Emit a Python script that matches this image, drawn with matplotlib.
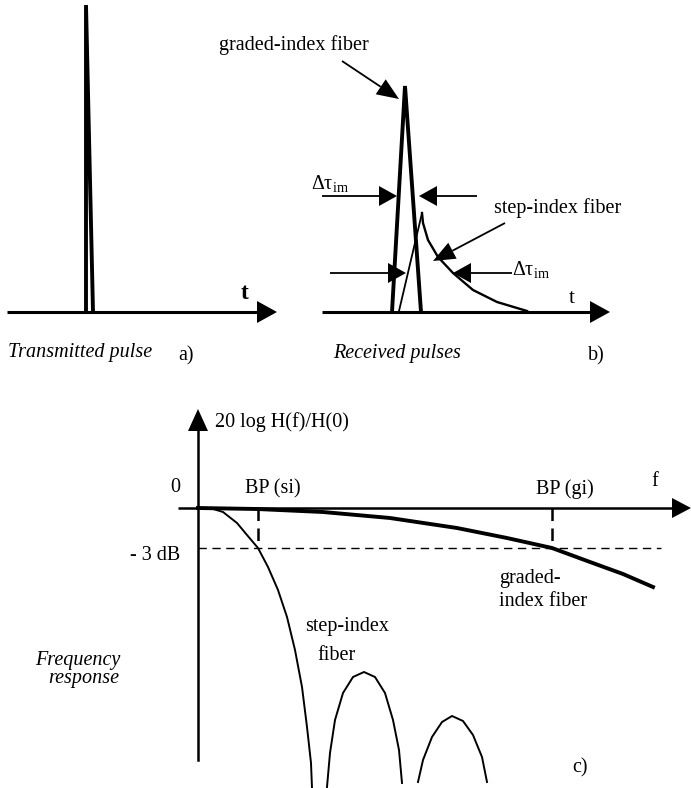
import numpy as np
import matplotlib
matplotlib.use('Agg')
import matplotlib.pyplot as plt
from matplotlib.patches import Polygon

plt.rcParams['font.family'] = ['Liberation Serif', 'DejaVu Serif']
plt.rcParams['mathtext.fontset'] = 'custom'
plt.rcParams['mathtext.rm'] = 'Liberation Serif'
plt.rcParams['mathtext.it'] = 'Liberation Serif:italic'
plt.rcParams['lines.solid_joinstyle'] = 'round'

# panel a) transmitted pulse (pixel coordinates of the sketch)
tx_pulse_x = [86, 86, 93]
tx_pulse_y = [312, 5, 312]

# panel b) received pulses
gi_pulse_x = [392, 405, 421]
gi_pulse_y = [312, 86, 312]
si_rise_x = [399, 422]
si_rise_y = [311, 213]
si_decay_x = [422, 423, 428, 438, 453, 473, 497, 527]
si_decay_y = [213, 223, 240, 257, 273, 290, 302, 311]

# panel c) frequency response
axis_y = 508
level_3db = 548
bp_si = 258
bp_gi = 552
gi_resp_x = [198, 257, 323, 390, 457, 507, 552, 590, 623, 653]
gi_resp_y = [508, 509, 512, 518, 528, 538, 548, 562, 574, 587]
si_resp_x = [198, 210, 223, 237, 247, 258, 268, 278, 287, 295, 302, 307, 311, 312]
si_resp_y = [508, 508, 512, 523, 535, 548, 567, 590, 617, 650, 687, 727, 763, 788]
lobe1_x = [327, 330, 335, 343, 353, 364, 375, 385, 393, 399, 402]
lobe1_y = [787, 753, 720, 693, 677, 672, 677, 693, 720, 750, 783]
lobe2_x = [418, 423, 432, 442, 452, 463, 473, 482, 487]
lobe2_y = [782, 760, 737, 722, 716, 721, 735, 757, 782]


def arrow(ax, tail, tip, lw=1.3, hl=20, hw=9):
    tail = np.array(tail, float)
    tip = np.array(tip, float)
    d = tip - tail
    d /= np.hypot(*d)
    n = np.array([-d[1], d[0]])
    base = tip - d * hl
    ax.plot([tail[0], base[0]], [tail[1], base[1]], color='k', lw=lw,
            solid_capstyle='butt')
    ax.add_patch(Polygon([tip, base + n * hw, base - n * hw],
                         closed=True, color='k', lw=0))


def main() -> None:
    fig = plt.figure(figsize=(6.91, 7.88), dpi=100)
    ax = fig.add_axes([0, 0, 1, 1])
    ax.set_xlim(0, 691)
    ax.set_ylim(788, 0)
    ax.axis('off')

    fs = 14.5

    # a)
    arrow(ax, (7, 312), (277, 312), lw=2.2, hl=20, hw=11)
    ax.plot(tx_pulse_x, tx_pulse_y, color='k', lw=2.8, solid_joinstyle='miter')
    ax.text(245, 293, 't', fontsize=17, fontweight='bold', ha='center', va='center')
    ax.text(8, 352, 'Transmitted pulse', fontsize=fs, style='italic', va='center')
    ax.text(178, 356, 'a)', fontsize=fs, va='center')

    # b)
    arrow(ax, (322, 312), (610, 312), lw=2.2, hl=20, hw=11)
    ax.plot(gi_pulse_x, gi_pulse_y, color='k', lw=2.8, solid_joinstyle='miter')
    ax.plot(si_rise_x, si_rise_y, color='k', lw=1.3)
    ax.plot(si_decay_x, si_decay_y, color='k', lw=1.7)
    ax.text(572, 298, 't', fontsize=15, ha='center', va='center')
    ax.text(294, 45, 'graded-index fiber', fontsize=fs, ha='center', va='center')
    arrow(ax, (342, 61), (399, 99), lw=1.3, hl=22, hw=9)
    ax.text(311, 183, 'Δτ$_{\\mathrm{im}}$', fontsize=fs, va='center')
    arrow(ax, (322, 196), (397, 196), lw=1.3, hl=18, hw=10)
    arrow(ax, (477, 196), (419, 196), lw=1.3, hl=18, hw=10)
    ax.text(494, 208, 'step-index fiber', fontsize=fs, va='center')
    arrow(ax, (505, 223), (433, 261), lw=1.3, hl=22, hw=9)
    arrow(ax, (330, 273), (406, 273), lw=1.3, hl=18, hw=10)
    arrow(ax, (512, 273), (453, 273), lw=1.3, hl=18, hw=10)
    ax.text(512, 269, 'Δτ$_{\\mathrm{im}}$', fontsize=fs, va='center')
    ax.text(333, 353, 'Received pulses', fontsize=fs, style='italic', va='center')
    ax.text(588, 356, 'b)', fontsize=fs, va='center')

    # c)
    ax.plot([198, 198], [760, 425], color='k', lw=1.8)
    ax.add_patch(Polygon([(198, 409), (188, 431), (208, 431)], closed=True, color='k', lw=0))
    arrow(ax, (178, axis_y), (691, axis_y), lw=1.8, hl=19, hw=10)
    ax.plot([198, 661], [level_3db, level_3db], color='k', lw=1.0, dashes=(6, 4))
    ax.plot([bp_si, bp_si], [axis_y, level_3db], color='k', lw=1.8, dashes=(5, 3))
    ax.plot([bp_gi, bp_gi], [axis_y, level_3db], color='k', lw=1.8, dashes=(5, 3))
    ax.plot(gi_resp_x, gi_resp_y, color='k', lw=2.8)
    ax.plot(si_resp_x, si_resp_y, color='k', lw=1.4)
    ax.plot(lobe1_x, lobe1_y, color='k', lw=1.4)
    ax.plot(lobe2_x, lobe2_y, color='k', lw=1.4)

    ax.text(215, 422, '20 log H(f)/H(0)', fontsize=fs, va='center')
    ax.text(175, 487, '0', fontsize=fs, ha='center', va='center')
    ax.text(180, 556, '- 3 dB', fontsize=fs, ha='right', va='center')
    ax.text(273, 489, 'BP (si)', fontsize=fs, ha='center', va='center')
    ax.text(565, 489, 'BP (gi)', fontsize=fs, ha='center', va='center')
    ax.text(655, 481, 'f', fontsize=fs, ha='center', va='center')
    ax.text(499, 579, 'graded-', fontsize=fs, va='center')
    ax.text(499, 602, 'index fiber', fontsize=fs, va='center')
    ax.text(347, 627, 'step-index', fontsize=fs, ha='center', va='center')
    ax.text(336, 655, 'fiber', fontsize=fs, ha='center', va='center')
    ax.text(78, 661, 'Frequency', fontsize=fs, style='italic', ha='center', va='center')
    ax.text(84, 679, 'response', fontsize=fs, style='italic', ha='center', va='center')
    ax.text(580, 768, 'c)', fontsize=fs, ha='center', va='center')

    fig.savefig('out.png', dpi=100)


if __name__ == '__main__':
    main()
